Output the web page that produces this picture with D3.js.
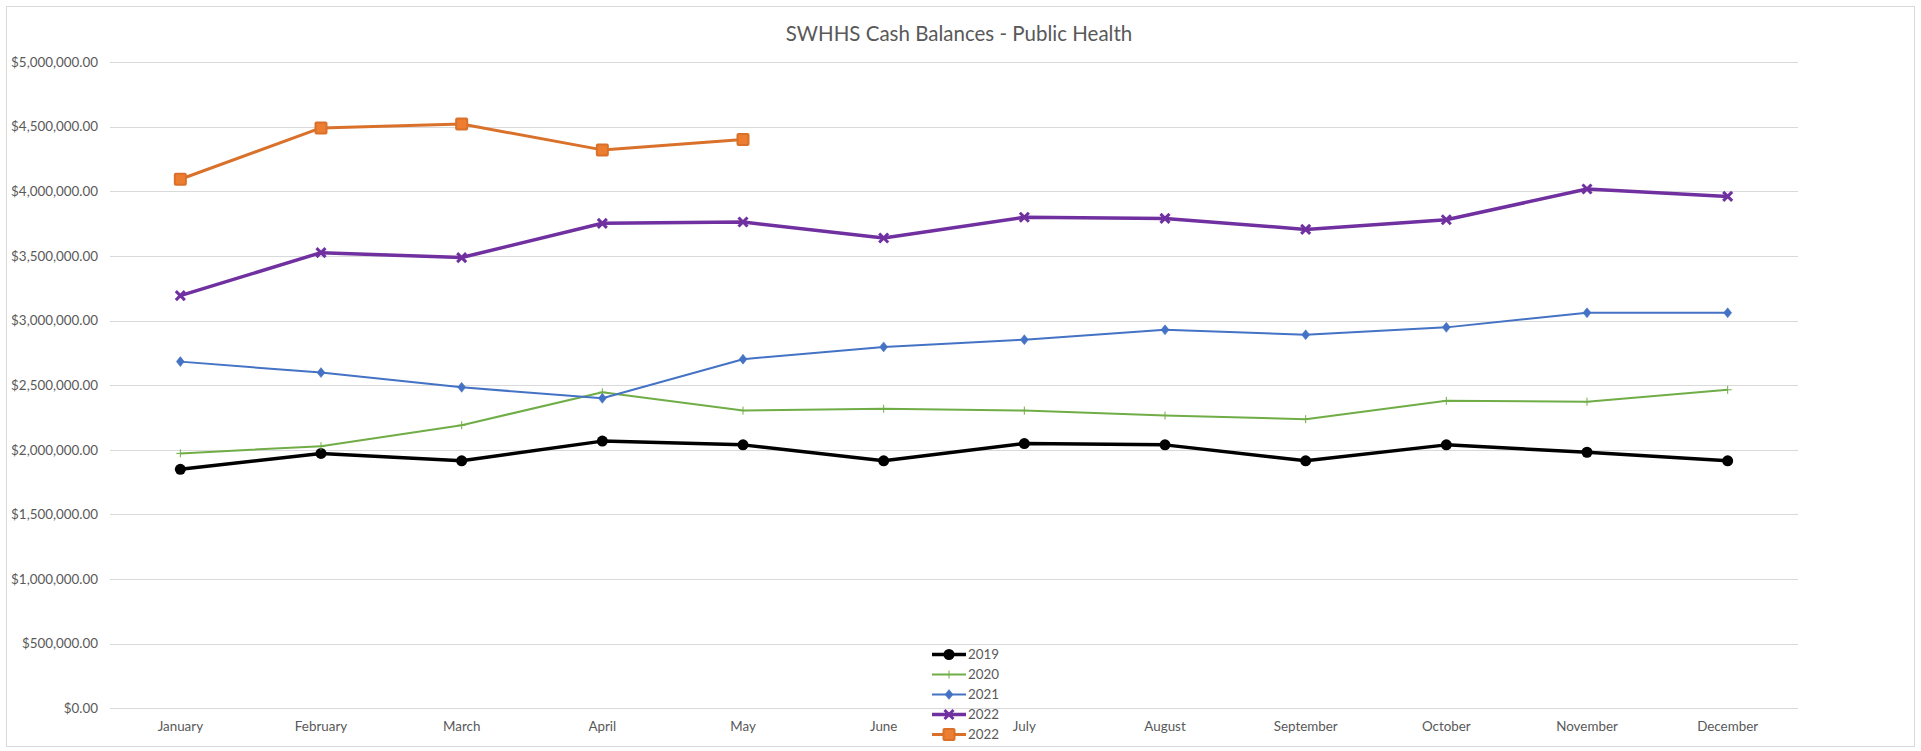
<!DOCTYPE html>
<html><head><meta charset="utf-8">
<script src="https://cdn.jsdelivr.net/npm/d3@7"></script>
<style>
html,body{margin:0;padding:0;background:#fff;}
svg{display:block;}
text{font-family:Lato,"Open Sans",sans-serif;fill:#595959;}
</style></head>
<body>
<script>
const months = ["January","February","March","April","May","June","July","August","September","October","November","December"];
const yTicks = [0,500000,1000000,1500000,2000000,2500000,3000000,3500000,4000000,4500000,5000000];
const s2019 = [1849000,1972000,1915000,2067000,2038000,1915000,2048000,2038000,1915000,2038000,1981000,1915000];
const s2020 = [1972000,2028000,2190000,2445000,2303000,2318000,2303000,2265000,2237000,2379000,2372000,2464000];
const s2021 = [2682000,2597000,2483000,2398000,2701000,2796000,2852000,2928000,2890000,2947000,3060000,3060000];
const s2022a = [3193000,3525000,3487000,3752000,3762000,3638000,3799000,3790000,3705000,3780000,4017000,3960000];
const s2022b = [4093000,4490000,4520000,4320000,4400000];
const seriesNames = ["2019","2020","2021","2022","2022"];

(function(){
const W=1921,H=751;
const svg=d3.select("body").append("svg").attr("width",W).attr("height",H);
svg.append("rect").attr("x",6.5).attr("y",6.5).attr("width",1908).attr("height",740)
  .attr("fill","#fff").attr("stroke","#D9D9D9").attr("stroke-width",1);

const pl=110,pr=1798,pt=62,pb=708.3;
const x=d3.scaleBand().domain(months).range([pl,pr]);
const y=d3.scaleLinear().domain([0,5000000]).range([pb,pt]);
const cx=m=>x(m)+x.bandwidth()/2;

svg.append("text").attr("x",959).attr("y",41).attr("text-anchor","middle")
  .style("font-size","20.5px").text("SWHHS Cash Balances - Public Health");

svg.append("g").selectAll("line").data(yTicks).join("line")
  .attr("x1",pl).attr("x2",pr).attr("y1",d=>Math.round(y(d))+0.5).attr("y2",d=>Math.round(y(d))+0.5)
  .attr("stroke","#D9D9D9").attr("stroke-width",1);

const fmt=d3.format("$,.2f");
const yAxis=d3.axisLeft(y).tickValues(yTicks).tickFormat(fmt).tickSize(0).tickPadding(12);
const ga=svg.append("g").attr("transform",`translate(${pl},0)`).call(yAxis);
ga.select(".domain").remove();
ga.selectAll("text").style("font-size","13.4px").style("font-family","Lato").attr("fill","#595959");

const xAxis=d3.axisBottom(x).tickSize(0).tickPadding(13);
const gx=svg.append("g").attr("transform",`translate(0,${pb})`).call(xAxis);
gx.select(".domain").remove();
gx.selectAll("text").style("font-size","13.4px").style("font-family","Lato").attr("fill","#595959");

const line=d3.line().x((d,i)=>cx(months[i])).y(d=>y(d));

const styles=[
  {data:s2019,color:"#000000",w:3.5,marker:"circle"},
  {data:s2020,color:"#70AD47",w:2,marker:"plus"},
  {data:s2021,color:"#4472C4",w:2,marker:"diamond"},
  {data:s2022a,color:"#7030A0",w:3.5,marker:"x"},
  {data:s2022b,color:"#D9712B",w:3,marker:"square"}
];

function drawMarker(g,type,px,py,color){
  if(type==="circle"){
    g.append("circle").attr("cx",px).attr("cy",py).attr("r",5.5).attr("fill",color);
  } else if(type==="plus"){
    g.append("path").attr("d",`M${px-4},${py}H${px+4}M${px},${py-4}V${py+4}`).attr("stroke",color).attr("stroke-width",1).attr("fill","none");
  } else if(type==="diamond"){
    g.append("path").attr("d",`M${px},${py-5}L${px+4},${py}L${px},${py+5}L${px-4},${py}Z`).attr("fill",color).attr("stroke",color).attr("stroke-width",0.5);
  } else if(type==="x"){
    g.append("path").attr("d",`M${px-4.5},${py-4.5}L${px+4.5},${py+4.5}M${px+4.5},${py-4.5}L${px-4.5},${py+4.5}`).attr("stroke",color).attr("stroke-width",3).attr("fill","none");
  } else if(type==="square"){
    g.append("rect").attr("x",px-5.5).attr("y",py-5.5).attr("width",11).attr("height",11).attr("rx",1)
      .attr("fill","#ED7D31").attr("stroke","#D9712B").attr("stroke-width",2);
  }
}

styles.forEach(s=>{
  const g=svg.append("g");
  g.append("path").datum(s.data).attr("d",line).attr("fill","none").attr("stroke",s.color)
    .attr("stroke-width",s.w).attr("stroke-linejoin","round");
  s.data.forEach((v,i)=>drawMarker(g,s.marker,cx(months[i]),y(v),s.color));
});

const lg=svg.append("g");
styles.forEach((s,i)=>{
  const ly=654.5+i*20;
  lg.append("line").attr("x1",932).attr("x2",966).attr("y1",ly).attr("y2",ly).attr("stroke",s.color).attr("stroke-width",s.w);
  drawMarker(lg,s.marker,949,ly,s.color);
  lg.append("text").attr("x",968).attr("y",ly+4.8).style("font-size","13.4px").text(seriesNames[i]);
});
})();
</script>
</body></html>
